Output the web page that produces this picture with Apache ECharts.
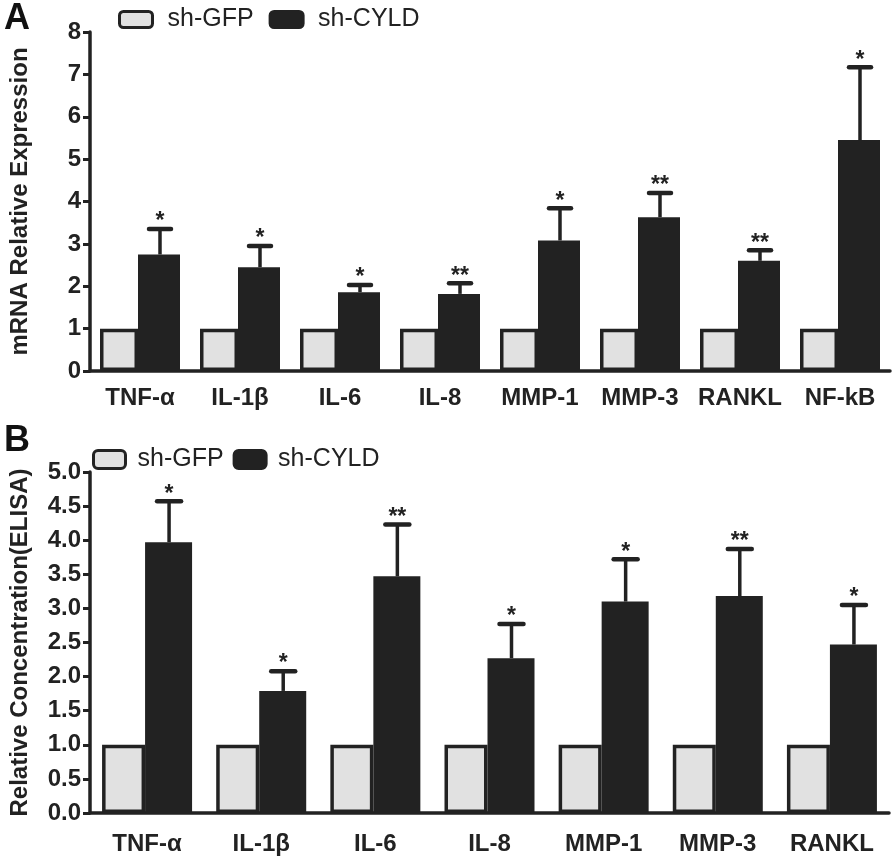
<!DOCTYPE html>
<html>
<head>
<meta charset="utf-8">
<script src="https://cdn.jsdelivr.net/npm/echarts@6/dist/echarts.min.js"></script>
<style>
  html, body { margin: 0; padding: 0; background: #fff; }
  #main { width: 896px; height: 860px; }
</style>
</head>
<body>
<div id="main"></div>
<script>
// panel A: mRNA
const categoriesA = ['TNF-α', 'IL-1β', 'IL-6', 'IL-8', 'MMP-1', 'MMP-3', 'RANKL', 'NF-kB'];
const gfpA = [1, 1, 1, 1, 1, 1, 1, 1];
const cyldA = [2.75, 2.45, 1.86, 1.82, 3.08, 3.63, 2.60, 5.45];
const cyldErrA = [0.60, 0.50, 0.17, 0.25, 0.76, 0.57, 0.25, 1.72];
const starsA = ['*', '*', '*', '**', '*', '**', '**', '*'];

// panel B: ELISA
const categoriesB = ['TNF-α', 'IL-1β', 'IL-6', 'IL-8', 'MMP-1', 'MMP-3', 'RANKL'];
const gfpB = [1, 1, 1, 1, 1, 1, 1];
const cyldB = [3.97, 1.79, 3.47, 2.27, 3.10, 3.18, 2.47];
const cyldErrB = [0.60, 0.29, 0.76, 0.50, 0.62, 0.69, 0.58];
const starsB = ['*', '*', '**', '*', '*', '**', '*'];

const FONT = '"Liberation Sans", Arial, sans-serif';
const INK = '#222222';
const GRAY = '#e1e1e1';

const myChart = echarts.init(document.getElementById('main'));

// error bar (upper only) + significance stars
function errRender(offset, capHalf, stars) {
  return function (params, api) {
    const i = api.value(0);
    const base = api.coord([i, api.value(1)]);
    const top = api.coord([i, api.value(2)]);
    const x = base[0] + offset;
    return {
      type: 'group',
      children: [
        { type: 'line', shape: { x1: x, y1: base[1], x2: x, y2: top[1] }, style: { stroke: INK, lineWidth: 3.5 } },
        { type: 'line', shape: { x1: x - capHalf, y1: top[1], x2: x + capHalf, y2: top[1] }, style: { stroke: INK, lineWidth: 4.5, lineCap: 'round' } },
        { type: 'text', x: x, y: top[1] - 7, style: { text: stars[i], fill: INK, font: 'bold 23px ' + FONT, align: 'center', verticalAlign: 'middle' } }
      ]
    };
  };
}

function xAxisOf(cats, grid, margin) {
  return {
    type: 'category', gridIndex: grid, data: cats,
    axisLine: { lineStyle: { color: INK, width: 3.5 } },
    axisTick: { alignWithLabel: true, interval: 0, length: 10, lineStyle: { color: INK, width: 3 } },
    axisLabel: { interval: 0, hideOverlap: false, color: INK, fontFamily: FONT, fontWeight: 'bold', fontSize: 24, margin: margin }
  };
}

function yAxisOf(grid, max, interval, name, digits) {
  return {
    type: 'value', gridIndex: grid, min: 0, max: max, interval: interval,
    name: name, nameLocation: 'middle', nameGap: 58,
    nameTextStyle: { color: INK, fontFamily: FONT, fontWeight: 'bold', fontSize: 24 },
    splitLine: { show: false },
    axisLine: { show: true, lineStyle: { color: INK, width: 3.5 } },
    axisTick: { show: true, length: 7, lineStyle: { color: INK, width: 3 } },
    axisLabel: { color: INK, fontFamily: FONT, fontWeight: 'bold', fontSize: 24, margin: 9,
      formatter: v => v.toFixed(digits) }
  };
}

function legendOf(left, top, gap, pad, w, h) {
  return {
    left: left, top: top, itemGap: gap, itemWidth: w, itemHeight: h, icon: 'roundRect',
    data: [
      { name: 'sh-GFP', itemStyle: { color: GRAY, borderColor: INK, borderWidth: 3 } },
      { name: 'sh-CYLD', itemStyle: { color: INK, borderColor: INK, borderWidth: 3 } }
    ],
    textStyle: { color: INK, fontFamily: FONT, fontSize: 25, padding: [0, 0, 0, pad] }
  };
}

myChart.setOption({
  animation: false,
  backgroundColor: '#fff',
  graphic: [
    { type: 'text', left: 4, top: 1, style: { text: 'A', font: 'bold 36px ' + FONT, fill: '#111' } },
    { type: 'text', left: 4, top: 423, style: { text: 'B', font: 'bold 36px ' + FONT, fill: '#111' } }
  ],
  legend: [
    legendOf(113, 2, 15, 10, 33, 16),
    legendOf(87, 442, 9, 7, 32, 18)
  ],
  grid: [
    { left: 85, top: 32, right: 6, height: 339 },
    { left: 86, top: 472, right: 7, height: 341 }
  ],
  xAxis: [xAxisOf(categoriesA, 0, 15), xAxisOf(categoriesB, 1, 19)],
  yAxis: [
    yAxisOf(0, 8, 1, 'mRNA Relative Expression', 0),
    yAxisOf(1, 5, 0.5, 'Relative Concentration(ELISA)', 1)
  ],
  series: [
    { name: 'sh-GFP', type: 'bar', xAxisIndex: 0, yAxisIndex: 0, data: gfpA, barWidth: 38, barGap: '0%',
      itemStyle: { color: GRAY, borderColor: INK, borderWidth: 3.5 } },
    { name: 'sh-CYLD', type: 'bar', xAxisIndex: 0, yAxisIndex: 0, data: cyldA, barWidth: 42, barGap: '0%',
      itemStyle: { color: INK } },
    { type: 'custom', xAxisIndex: 0, yAxisIndex: 0, z: 5, silent: true,
      data: cyldA.map((v, i) => [i, v, v + cyldErrA[i]]),
      renderItem: errRender(20, 11, starsA) },

    { name: 'sh-GFP', type: 'bar', xAxisIndex: 1, yAxisIndex: 1, data: gfpB, barWidth: 43, barGap: '0%',
      itemStyle: { color: GRAY, borderColor: INK, borderWidth: 3.5 } },
    { name: 'sh-CYLD', type: 'bar', xAxisIndex: 1, yAxisIndex: 1, data: cyldB, barWidth: 47, barGap: '0%',
      itemStyle: { color: INK } },
    { type: 'custom', xAxisIndex: 1, yAxisIndex: 1, z: 5, silent: true,
      data: cyldB.map((v, i) => [i, v, v + cyldErrB[i]]),
      renderItem: errRender(22, 12, starsB) }
  ]
});
</script>
</body>
</html>
